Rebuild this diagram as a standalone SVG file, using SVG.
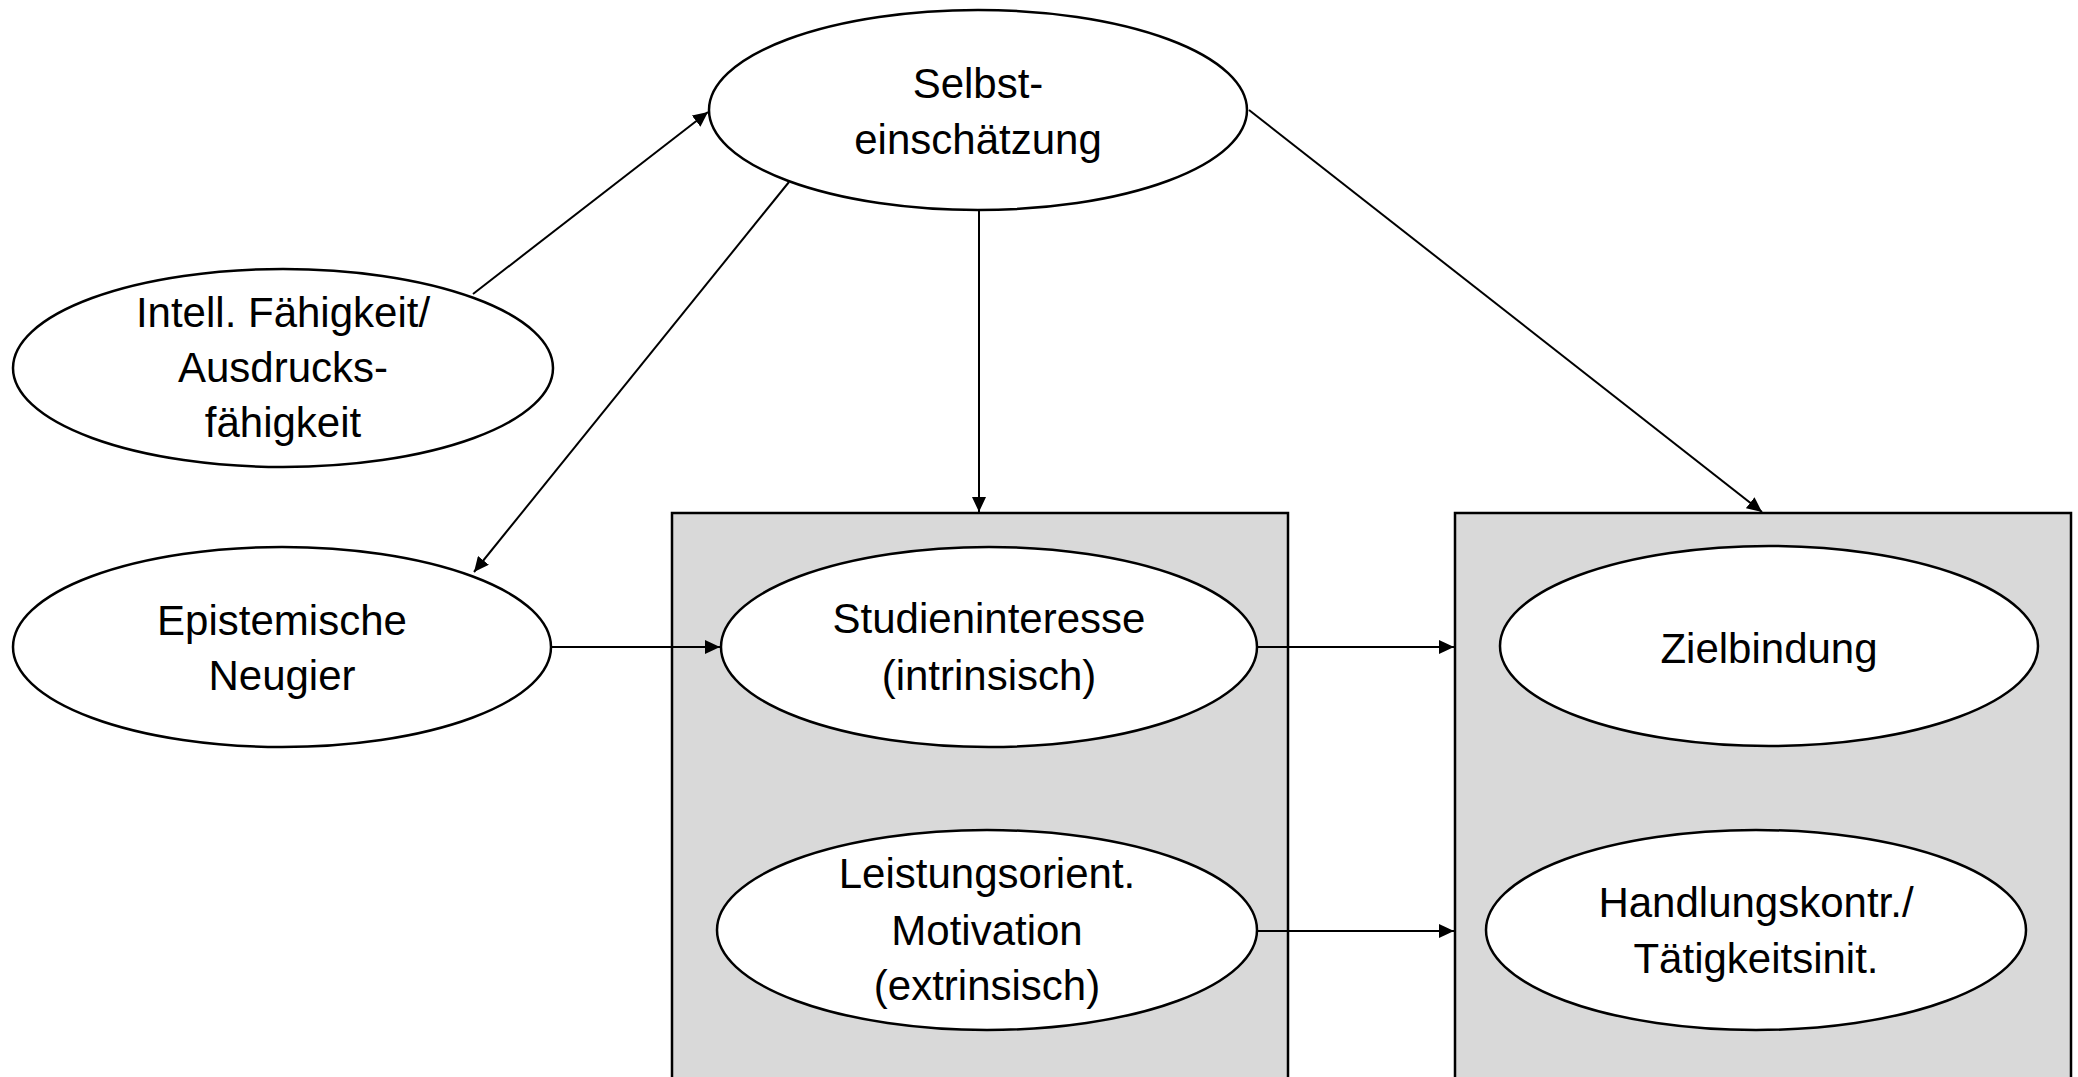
<svg xmlns="http://www.w3.org/2000/svg" width="2078" height="1077" viewBox="0 0 2078 1077">
<defs>
<style>
.bg{fill:#ffffff}
.box{fill:#d9d9d9;stroke:#000;stroke-width:2.5}
.node ellipse{fill:#ffffff;stroke:#000;stroke-width:2.5}
.node text{font-family:"Liberation Sans",Arial,sans-serif;font-size:42px;fill:#000;text-anchor:middle}
.conn line{stroke:#000;stroke-width:2;marker-end:url(#arr)}
</style>
<marker id="arr" markerUnits="userSpaceOnUse" markerWidth="16" markerHeight="14" refX="15" refY="7" orient="auto">
<path d="M0,0 L15,7 L0,14 z" fill="#000"/>
</marker>
</defs>
<rect class="bg" x="0" y="0" width="2078" height="1077"/>
<g id="box-left"><rect class="box" x="672" y="513" width="616" height="580"/></g>
<g id="box-right"><rect class="box" x="1455" y="513" width="616" height="580"/></g>
<g id="connectors" class="conn">
<line x1="473" y1="294" x2="708" y2="112"/>
<line x1="789" y1="182" x2="474" y2="572"/>
<line x1="979" y1="211" x2="979" y2="512"/>
<line x1="1249" y1="110" x2="1762" y2="512"/>
<line x1="551" y1="647" x2="720" y2="647"/>
<line x1="1258" y1="647" x2="1454" y2="647"/>
<line x1="1257" y1="931" x2="1454" y2="931"/>
</g>
<g id="selbst" class="node">
<ellipse cx="978" cy="110" rx="269" ry="100"/>
<text x="978" y="98">Selbst-</text>
<text x="978" y="154">einschätzung</text>
</g>
<g id="intell" class="node">
<ellipse cx="283" cy="368" rx="270" ry="99"/>
<text x="283" y="327">Intell. Fähigkeit/</text>
<text x="283" y="382">Ausdrucks-</text>
<text x="283" y="437">fähigkeit</text>
</g>
<g id="epistemisch" class="node">
<ellipse cx="282" cy="647" rx="269" ry="100"/>
<text x="282" y="635">Epistemische</text>
<text x="282" y="690">Neugier</text>
</g>
<g id="studien" class="node">
<ellipse cx="989" cy="647" rx="268" ry="100"/>
<text x="989" y="633">Studieninteresse</text>
<text x="989" y="690">(intrinsisch)</text>
</g>
<g id="leistung" class="node">
<ellipse cx="987" cy="930" rx="270" ry="100"/>
<text x="987" y="888">Leistungsorient.</text>
<text x="987" y="945">Motivation</text>
<text x="987" y="1000">(extrinsisch)</text>
</g>
<g id="ziel" class="node">
<ellipse cx="1769" cy="646" rx="269" ry="100"/>
<text x="1769" y="663">Zielbindung</text>
</g>
<g id="handlung" class="node">
<ellipse cx="1756" cy="930" rx="270" ry="100"/>
<text x="1756" y="917">Handlungskontr./</text>
<text x="1756" y="973">Tätigkeitsinit.</text>
</g>
</svg>
